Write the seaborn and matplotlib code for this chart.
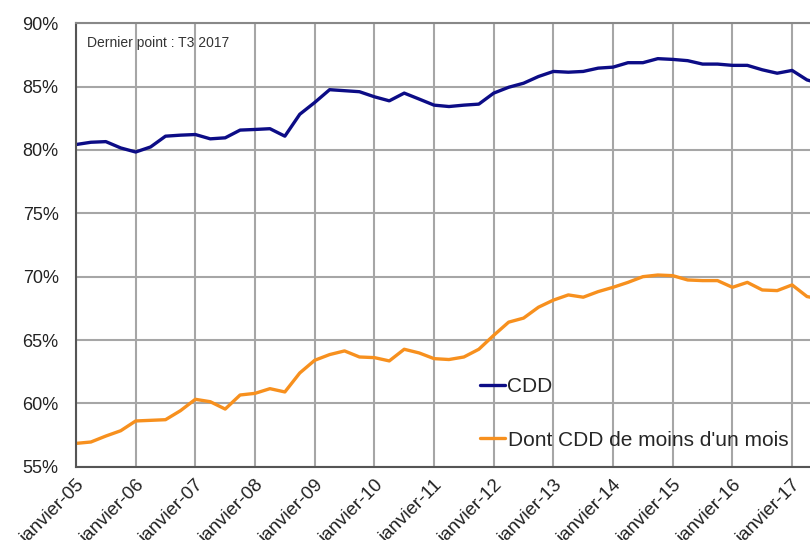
import numpy as np
import pandas as pd
import matplotlib
matplotlib.use("Agg")
import matplotlib.pyplot as plt
import seaborn as sns

# Données trimestrielles T1 2005 -> T3 2017 (part en %)
annees = [f"janvier-{a:02d}" for a in range(5, 18)]
cdd = [80.43, 80.61, 80.66, 80.16, 79.84, 80.24, 81.09, 81.17,
       81.22, 80.88, 80.96, 81.57, 81.62, 81.68, 81.09, 82.82,
       83.75, 84.76, 84.68, 84.60, 84.20, 83.88, 84.49, 84.02,
       83.54, 83.43, 83.54, 83.62, 84.49, 84.95, 85.27, 85.80,
       86.20, 86.14, 86.20, 86.46, 86.54, 86.89, 86.89, 87.21,
       87.15, 87.05, 86.78, 86.78, 86.68, 86.68, 86.33, 86.06,
       86.28, 85.53, 85.20]
cdd_moins_mois = [56.84, 56.95, 57.42, 57.84, 58.61, 58.66, 58.71, 59.42,
                  60.32, 60.13, 59.55, 60.66, 60.79, 61.16, 60.90, 62.40,
                  63.40, 63.85, 64.14, 63.66, 63.61, 63.35, 64.27, 63.98,
                  63.53, 63.46, 63.66, 64.27, 65.37, 66.41, 66.73, 67.59,
                  68.15, 68.56, 68.38, 68.82, 69.16, 69.55, 70.00, 70.13,
                  70.08, 69.74, 69.69, 69.69, 69.16, 69.55, 68.95, 68.90,
                  69.35, 68.43, 68.20]

trimestre = np.arange(len(cdd))

sns.set_style("whitegrid")
plt.rcParams['font.family'] = ['Liberation Sans', 'DejaVu Sans']

fig = plt.figure(figsize=(8.1, 5.4), dpi=100)
ax = fig.add_axes([76 / 810, 1 - 466.7 / 540, 1 - 76 / 810, (466.7 - 23.3) / 540])

sns.lineplot(x=trimestre, y=cdd, ax=ax, color='#0c0c86', linewidth=2.4, label='CDD')
sns.lineplot(x=trimestre, y=cdd_moins_mois, ax=ax, color='#f7901e', linewidth=2.4,
             label="Dont CDD de moins d'un mois")

ax.set_xlim(0, 49.2)
ax.set_ylim(55, 90)
ax.set_yticks(range(55, 91, 5))
ax.set_yticklabels([f"{v}%" for v in range(55, 91, 5)], fontsize=13, color='#222222')
ax.set_xticks(trimestre[::4])
ax.set_xticklabels(annees, rotation=45, ha='right', rotation_mode='anchor', fontsize=13.5, color='#222222')
ax.tick_params(axis='x', length=0, pad=7)
ax.tick_params(axis='y', length=0, pad=12.5)
ax.set_xlabel('')
ax.set_ylabel('')

ax.grid(True, color='#a6a6a6', linewidth=1.5)
for s in ['left', 'bottom']:
    ax.spines[s].set_color('#555555')
    ax.spines[s].set_linewidth(1.5)
ax.spines['top'].set_color('#888888')
ax.spines['top'].set_linewidth(1.5)
ax.spines['right'].set_visible(False)

ax.text(0.015, 0.955, 'Dernier point : T3 2017', transform=ax.transAxes,
        fontsize=10, color='#333333', va='center', ha='left')

ax.legend(loc='upper left', bbox_to_anchor=(470 / 810, 1 - 367 / 540),
          bbox_transform=fig.transFigure, frameon=False, fontsize=15,
          handlelength=1.2, handletextpad=0.1, labelspacing=1.65, borderpad=0)

fig.savefig('out.png', dpi=100)
